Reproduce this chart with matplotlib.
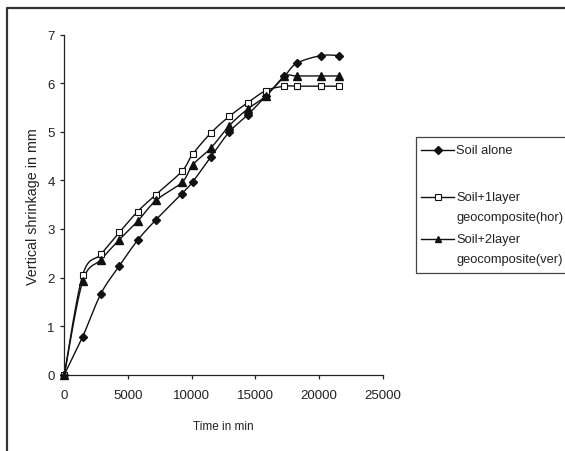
import numpy as np
import matplotlib
matplotlib.use("Agg")
import matplotlib.pyplot as plt
from matplotlib.lines import Line2D
from matplotlib.patches import Rectangle

plt.rcParams['font.family'] = ['Liberation Sans', 'DejaVu Sans']

time_min = [0, 1440, 2880, 4320, 5760, 7200, 9240, 10080, 11520, 12960,
            14400, 15840, 17280, 18240, 20160, 21600]
soil_alone = [0, 0.78, 1.67, 2.24, 2.77, 3.19, 3.73, 3.97, 4.49, 5.00,
              5.35, 5.74, 6.14, 6.41, 6.57, 6.57]
soil_1layer_hor = [0, 2.05, 2.48, 2.93, 3.36, 3.71, 4.19, 4.54, 4.98, 5.32,
                   5.60, 5.85, 5.94, 5.94, 5.94, 5.94]
soil_2layer_ver = [0, 1.92, 2.37, 2.78, 3.16, 3.59, 3.96, 4.32, 4.67, 5.13,
                   5.47, 5.74, 6.14, 6.15, 6.15, 6.15]

x_ticks = [0, 5000, 10000, 15000, 20000, 25000]
y_ticks = [0, 1, 2, 3, 4, 5, 6, 7]

W, H = 565, 452
fig = plt.figure(figsize=(W / 100, H / 100), dpi=100)
ax = fig.add_axes([64.3 / W, 1 - 375.7 / H, (382.7 - 64.3) / W, (375.7 - 35.7) / H])
ax.set_xlim(0, 25000)
ax.set_ylim(0, 7)

# Excel-like smoothed line (Bezier through the data points), computed in display-scaled space
sx = (382.7 - 64.3) / 25000.0
sy = (375.7 - 35.7) / 7.0


def smooth(xs, ys, n=20):
    P = np.column_stack([np.asarray(xs, float) * sx, np.asarray(ys, float) * sy])
    out = [P[0]]
    for i in range(len(P) - 1):
        p0 = P[i - 1] if i > 0 else P[i]
        p1 = P[i]
        p2 = P[i + 1]
        p3 = P[i + 2] if i + 2 < len(P) else P[i + 1]
        c1 = p1 + (p2 - p0) / 6.0
        c2 = p2 - (p3 - p1) / 6.0
        t = np.linspace(0, 1, n)[1:, None]
        seg = ((1 - t) ** 3) * p1 + 3 * ((1 - t) ** 2) * t * c1 + 3 * (1 - t) * t ** 2 * c2 + t ** 3 * p2
        out.extend(seg)
    out = np.array(out)
    return out[:, 0] / sx, out[:, 1] / sy


lc = '#111111'
series = [
    (soil_alone, dict(marker='D', markersize=4.3, markerfacecolor=lc, markeredgecolor=lc)),
    (soil_1layer_hor, dict(marker='s', markersize=5.0, markerfacecolor='white', markeredgecolor=lc, markeredgewidth=0.8)),
    (soil_2layer_ver, dict(marker='^', markersize=5.5, markerfacecolor=lc, markeredgecolor=lc)),
]
for ys, mk in series:
    xs_s, ys_s = smooth(time_min, ys)
    ax.plot(xs_s, ys_s, color=lc, lw=1.0, clip_on=False, zorder=2)
for ys, mk in series:
    ax.plot(time_min, ys, linestyle='none', clip_on=False, zorder=3, **mk)

for s in ['top', 'right']:
    ax.spines[s].set_visible(False)
for s in ['left', 'bottom']:
    ax.spines[s].set_color('#222222')
    ax.spines[s].set_linewidth(0.9)

ax.set_xticks(x_ticks)
ax.set_yticks(y_ticks)
ax.set_xticklabels([str(v) for v in x_ticks])
ax.set_yticklabels([str(v) for v in y_ticks])
ax.tick_params(axis='both', direction='out', length=3, width=0.9, colors='#222222', labelsize=9.5)
ax.tick_params(axis='x', pad=7)
ax.tick_params(axis='y', pad=4)

fig.text(223 / W, 1 - 427 / H, 'Time in min', ha='center', va='center', fontsize=8.5, color='#222222')
fig.text(33 / W, 1 - 207 / H, 'Vertical shrinkage in mm', ha='center', va='center', rotation=90,
         fontsize=10.3, color='#222222')

# outer chart-area border (cut by the image edges)
fig.add_artist(Line2D([6.5 / W, 6.5 / W, 1.0], [0.0, 1 - 8.5 / H, 1 - 8.5 / H],
                      transform=fig.transFigure, color='#333333', lw=1.6))

# legend box
lx0, ly0, ly1 = 415.7, 138.3, 274.0
fig.add_artist(Rectangle((lx0 / W, 1 - ly1 / H), (570 - lx0) / W, (ly1 - ly0) / H,
                         transform=fig.transFigure, facecolor='white', edgecolor='#444444', lw=0.9,
                         clip_on=False))
legend_mk = [
    dict(marker='D', markersize=3.6, markerfacecolor=lc, markeredgecolor=lc),
    dict(marker='s', markersize=4.2, markerfacecolor='white', markeredgecolor=lc, markeredgewidth=0.8),
    dict(marker='^', markersize=4.6, markerfacecolor=lc, markeredgecolor=lc),
]
entries = [
    (151, ['Soil alone']),
    (198, ['Soil+1layer', 'geocomposite(hor)']),
    (240, ['Soil+2layer', 'geocomposite(ver)']),
]
for (yy, lines), mk in zip(entries, legend_mk):
    yf = 1 - yy / H
    fig.add_artist(Line2D([421 / W, 454 / W], [yf, yf], transform=fig.transFigure, color=lc, lw=1.0))
    fig.add_artist(Line2D([437.5 / W], [yf], transform=fig.transFigure, linestyle='none', **mk))
    for k, t in enumerate(lines):
        fig.text(456.5 / W, 1 - (yy + 20 * k) / H, t, ha='left', va='center', fontsize=9.3, color='#222222')

fig.savefig('out.png', dpi=100)
